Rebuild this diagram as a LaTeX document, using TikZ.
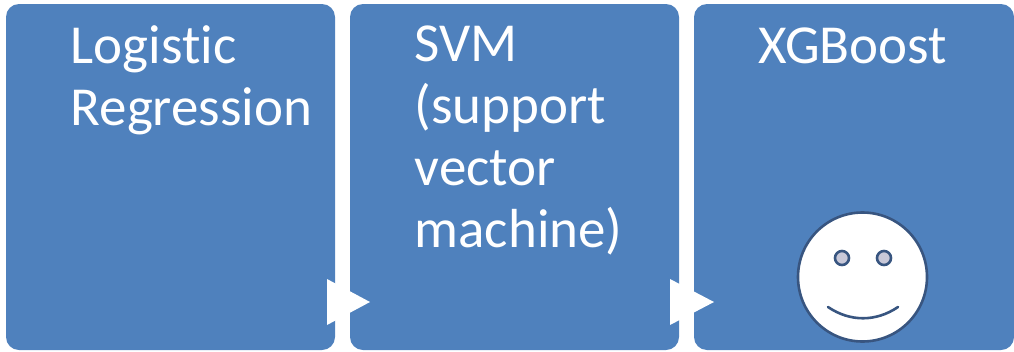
\documentclass[tikz,border=0pt]{standalone}
\usepackage{fontspec}
\setmainfont[Ligatures=NoCommon]{Carlito}
\definecolor{boxblue}{RGB}{79,129,189}
\definecolor{faceedge}{RGB}{56,85,128}
\definecolor{eyefill}{RGB}{200,200,216}
\tikzset{x=1pt,y=-1pt,
 card/.style={fill=boxblue,draw=none,rounded corners=13pt},
 lbl/.style={text=white,font=\fontsize{55}{62}\selectfont,align=left,anchor=north west,inner sep=0pt},
 tri/.style={fill=white,draw=none},
 face/.style={circle,draw=faceedge,line width=2.6pt,inner sep=0pt}}
\begin{document}
\begin{tikzpicture}
\useasboundingbox (0,0) rectangle (1014,351);
\fill[card] (6,4) rectangle (335,350);
\fill[card] (350,4) rectangle (679,350);
\fill[card] (694,4) rectangle (1014,350);
\fill[tri] (327,279) -- (370,302) -- (327,325) -- cycle;
\fill[tri] (670,279) -- (714,302) -- (670,325) -- cycle;
\node[lbl] (l1) at (70.5,25) {Logistic\\Regression};
\node[lbl] (l2) at (414.5,26) {SVM\\(support\\vector\\machine)};
\node[lbl] (l3) at (758,28) {XGBoost};
\node[face,fill=white,minimum size=129pt] (f) at (862.5,277) {};
\node[face,fill=eyefill,minimum size=14pt] (e1) at (842,258) {};
\node[face,fill=eyefill,minimum size=14pt] (e2) at (884,258) {};
\draw[faceedge,line width=2.6pt,line cap=round] (828,307) .. controls (850,322) and (876,322) .. (898,307);
\end{tikzpicture}
\end{document}
